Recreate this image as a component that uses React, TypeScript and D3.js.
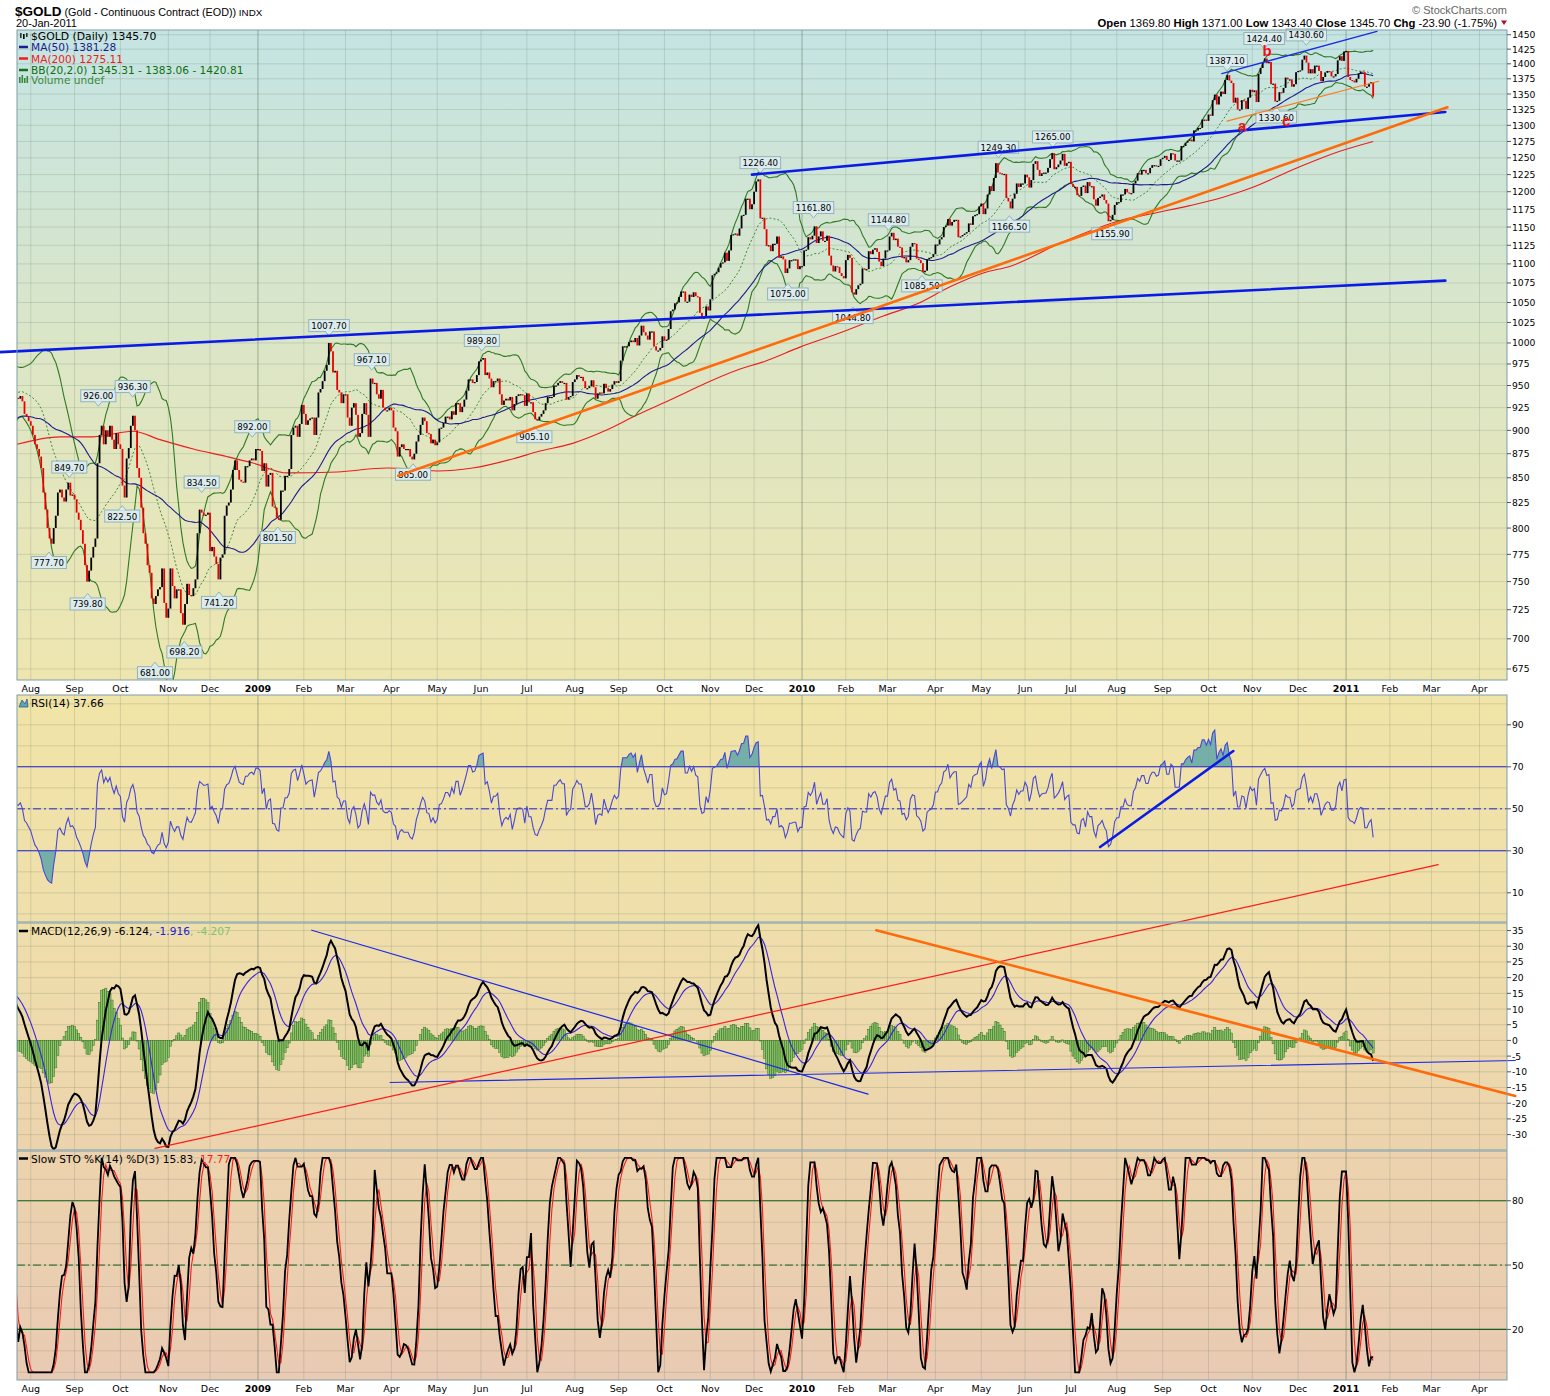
import React, { useEffect, useRef } from "react";
import * as d3 from "d3";

// one row of daily closes per month (weekday slots); the first three rows are only look-back for the indicators
const monthKeys = [
  "2008-05", "2008-06", "2008-07", "2008-08", "2008-09", "2008-10", "2008-11", "2008-12",
  "2009-01", "2009-02", "2009-03", "2009-04", "2009-05", "2009-06", "2009-07", "2009-08",
  "2009-09", "2009-10", "2009-11", "2009-12", "2010-01", "2010-02", "2010-03", "2010-04",
  "2010-05", "2010-06", "2010-07", "2010-08", "2010-09", "2010-10", "2010-11", "2010-12", "2011-01",
];

const monthCloses: number[][] = [
  [861, 853, 873, 880, 885, 878, 886, 873, 871, 866, 877, 894, 903, 912, 925, 928, 918, 925, 925, 899, 882, 886],
  [890, 896, 882, 877, 899, 878, 881, 872, 873, 872, 882, 894, 898, 905, 897, 885, 887, 883, 916, 925, 930],
  [943, 937, 936, 934, 934, 926, 925, 941, 946, 958, 965, 979, 960, 956, 951, 927, 936, 935, 938, 932, 918, 915, 910],
  [905, 895, 885, 880, 872, 860, 835, 818, 800, 790, 785, 800, 812, 835, 838, 830, 826, 838, 845, 832, 833],
  [828, 815, 808, 798, 785, 765, 750, 760, 772, 782, 790, 865, 895, 905, 885, 900, 893, 905, 890, 880, 897, 885],
  [880, 842, 830, 870, 881, 905, 916, 900, 860, 850, 820, 795, 785, 765, 758, 735, 730, 737, 743, 745, 762, 731, 718],
  [726, 762, 746, 735, 743, 743, 722, 712, 730, 748, 738, 737, 744, 752, 795, 818, 815, 812, 813, 815],
  [778, 782, 773, 766, 752, 772, 775, 812, 822, 825, 838, 858, 868, 858, 848, 846, 845, 862, 862, 868, 870, 868, 880],
  [880, 878, 857, 865, 841, 853, 855, 821, 820, 810, 808, 837, 837, 852, 852, 859, 895, 903, 905, 893, 907, 928],
  [918, 906, 911, 913, 914, 895, 914, 942, 946, 955, 967, 974, 1000, 990, 965, 967, 945, 942, 930, 940],
  [940, 914, 905, 925, 930, 917, 893, 897, 918, 930, 917, 893, 958, 952, 953, 940, 935, 945, 925, 922, 922, 925],
  [922, 903, 899, 872, 882, 885, 880, 880, 880, 872, 869, 875, 888, 895, 906, 914, 910, 897, 896, 886, 890, 884],
  [887, 902, 903, 908, 915, 915, 912, 921, 917, 930, 930, 920, 926, 934, 944, 957, 957, 953, 954, 962, 978],
  [980, 982, 962, 965, 958, 948, 955, 955, 958, 940, 928, 933, 935, 933, 937, 922, 929, 938, 940, 940, 939, 927],
  [941, 931, 931, 920, 912, 911, 915, 918, 922, 930, 937, 937, 937, 950, 950, 953, 955, 953, 953, 934, 937, 938, 954],
  [957, 962, 960, 960, 955, 947, 947, 949, 956, 948, 935, 941, 942, 941, 952, 947, 943, 946, 951, 955, 953],
  [955, 979, 996, 996, 996, 1001, 1003, 1001, 1006, 997, 1009, 1021, 1013, 1009, 1004, 1014, 1014, 996, 991, 991, 994, 1008],
  [1003, 1004, 1017, 1039, 1041, 1049, 1050, 1057, 1064, 1064, 1051, 1051, 1060, 1057, 1063, 1058, 1057, 1037, 1030, 1031, 1045, 1040],
  [1054, 1085, 1087, 1089, 1095, 1101, 1102, 1115, 1104, 1118, 1139, 1140, 1141, 1138, 1148, 1166, 1167, 1190, 1190, 1175, 1182],
  [1200, 1215, 1218, 1162, 1163, 1147, 1124, 1125, 1117, 1127, 1127, 1137, 1108, 1110, 1106, 1088, 1094, 1105, 1105, 1106, 1106, 1093, 1097],
  [1097, 1118, 1119, 1136, 1133, 1138, 1151, 1128, 1137, 1144, 1131, 1131, 1138, 1111, 1098, 1090, 1097, 1096, 1088, 1084, 1081],
  [1105, 1112, 1108, 1063, 1060, 1067, 1072, 1074, 1094, 1093, 1093, 1117, 1113, 1119, 1121, 1116, 1103, 1097, 1107, 1118],
  [1118, 1137, 1142, 1132, 1134, 1123, 1122, 1108, 1109, 1102, 1105, 1123, 1128, 1127, 1107, 1105, 1101, 1089, 1091, 1106, 1108, 1109, 1113],
  [1126, 1126, 1133, 1136, 1150, 1152, 1161, 1152, 1157, 1160, 1160, 1136, 1137, 1139, 1141, 1143, 1155, 1153, 1165, 1167, 1168, 1179],
  [1183, 1168, 1176, 1196, 1208, 1201, 1220, 1242, 1228, 1227, 1225, 1226, 1191, 1186, 1176, 1190, 1197, 1212, 1207, 1212, 1212],
  [1225, 1221, 1206, 1217, 1241, 1245, 1232, 1223, 1227, 1228, 1228, 1235, 1248, 1257, 1233, 1236, 1240, 1246, 1256, 1238, 1242, 1244],
  [1211, 1207, 1207, 1195, 1194, 1207, 1209, 1198, 1214, 1208, 1208, 1189, 1180, 1191, 1193, 1196, 1188, 1183, 1158, 1160, 1167, 1181],
  [1185, 1185, 1196, 1196, 1204, 1199, 1198, 1198, 1212, 1216, 1227, 1225, 1232, 1232, 1227, 1227, 1235, 1239, 1239, 1237, 1238, 1248],
  [1250, 1253, 1247, 1247, 1257, 1256, 1246, 1246, 1246, 1268, 1268, 1273, 1276, 1278, 1275, 1292, 1292, 1296, 1296, 1309, 1309, 1307],
  [1317, 1315, 1340, 1349, 1333, 1346, 1354, 1350, 1373, 1381, 1372, 1368, 1336, 1344, 1325, 1325, 1340, 1339, 1326, 1344, 1357],
  [1353, 1356, 1337, 1383, 1393, 1403, 1409, 1401, 1403, 1366, 1367, 1338, 1339, 1353, 1352, 1360, 1377, 1374, 1374, 1362, 1366, 1386],
  [1388, 1389, 1407, 1414, 1402, 1384, 1391, 1384, 1397, 1397, 1388, 1371, 1378, 1385, 1388, 1387, 1379, 1379, 1383, 1406, 1413, 1405, 1421],
  [1422, 1378, 1373, 1372, 1369, 1375, 1384, 1387, 1386, 1362, 1362, 1367, 1369.6, 1345.7],
];

// MA(200): session = weekdays since 1 Aug 2008
const ma200Sessions = [-6.6, 14, 30, 49, 62, 78, 94, 107, 123, 147, 171, 195, 212, 232, 243, 260, 276, 291, 308, 324, 339, 352, 369, 388, 409, 425, 441, 457, 470, 494, 524, 540, 556, 572, 585, 609, 628, 644];
const ma200Values = [885, 893, 893, 899, 890, 880, 872, 865, 855, 856, 860, 857, 860, 870, 877, 886, 900, 917, 935, 953, 968, 978, 995, 1012, 1033, 1048, 1070, 1088, 1097, 1128, 1160, 1170, 1180, 1192, 1205, 1237, 1260, 1275];

const priceTicks = [675, 700, 725, 750, 775, 800, 825, 850, 875, 900, 925, 950, 975, 1000, 1025, 1050, 1075, 1100, 1125, 1150, 1175, 1200, 1225, 1250, 1275, 1300, 1325, 1350, 1375, 1400, 1425, 1450];
const rsiTicks = [90, 70, 50, 30, 10];
const rsiGrid = [0, 10, 20, 30, 40, 50, 60, 70, 80, 90, 100];
const macdTicks = [35, 30, 25, 20, 15, 10, 5, 0, -5, -10, -15, -20, -25, -30];
const stoTicks = [80, 50, 20];
const stoGrid = [0, 10, 20, 30, 40, 50, 60, 70, 80, 90, 100];

// call-outs on highs and lows: [session, value, below]
const priceLabels: [number, number, number][] = [
  [8.7, 777.7, 1], [18.5, 849.7, 0], [27.3, 739.8, 1], [32.4, 926.0, 0], [43.9, 822.5, 1],
  [48.9, 936.3, 0], [59.6, 681.0, 1], [73.7, 698.2, 1], [82, 834.5, 0], [90.3, 741.2, 1],
  [106.3, 892.0, 0], [118.5, 801.5, 1], [143.1, 1007.7, 0], [163.6, 967.1, 0], [183.4, 865.0, 1],
  [216.4, 989.8, 0], [241.6, 905.1, 1], [350, 1226.4, 0], [363.2, 1075.0, 1], [375.5, 1161.8, 0],
  [394.4, 1044.8, 1], [411.5, 1144.8, 0], [427.5, 1085.5, 1], [464.2, 1249.3, 0], [469.5, 1166.5, 1],
  [490.3, 1265.0, 0], [518.7, 1155.9, 1], [573.9, 1387.1, 0], [591.7, 1424.4, 0], [597.5, 1330.6, 1],
  [611.9, 1430.6, 0],
];

// hand-drawn lines: [session1, value1, session2, value2]
const priceBlueThick = [[-14.8, 989, 678.6, 1078], [346, 1225, 678.6, 1321]];
const priceOrangeThick = [[176.3, 852, 679.6, 1328.6]];
const priceBlueThin = [[571.4, 1383.6, 645.8, 1456]];
const priceOrangeThin = [[573.9, 1306.6, 646.6, 1371]];
const rsiBlueThick = [[513, 31.8, 576.9, 77.5]];
const macdBlueThin = [[134.8, 35.1, 401.7, -17.1], [172.4, -13.4, 712.2, -6.4]];
const macdRedThin = [[59.6, -34.4, 675.2, 56.0]];
const macdOrangeThick = [[405.6, 35.1, 712.2, -17.7]];
const waveLetters = ["a", "b", "c"];
const waveSessions = [581.1, 593.1, 602.3];
const waveValues = [1299.5, 1422, 1308];

const FONT = "'DejaVu Sans', Verdana, sans-serif";
const SANS = "'Liberation Sans', Arial, sans-serif";

const sma = (a: number[], n: number) =>
  a.map((_, i) => {
    if (i < n - 1) return NaN;
    const w = a.slice(i - n + 1, i + 1);
    return w.some((v) => isNaN(v)) ? NaN : d3.sum(w) / n;
  });

const ema = (a: number[], n: number) => {
  const k = 2 / (n + 1);
  let prev = NaN;
  return a.map((v) => {
    if (isNaN(v)) return NaN;
    prev = isNaN(prev) ? v : v * k + prev * (1 - k);
    return prev;
  });
};

const App = () => {
  const ref = useRef<SVGSVGElement | null>(null);

  useEffect(() => {
    if (!ref.current) return;
    const svg = d3.select(ref.current);
    svg.selectAll("*").remove();

    // ---- calendar / bars ----
    const fmtMonth = d3.timeFormat("%Y-%m");
    const fmtDay = d3.timeFormat("%Y-%m-%d");
    const weekdays = d3.timeDay
      .range(new Date(2008, 4, 1), new Date(2011, 4, 1))
      .filter((d) => d.getDay() % 6 !== 0);
    const origin = weekdays.findIndex((d) => fmtDay(d) === "2008-08-01");
    const sessionOf = new Map(weekdays.map((d, i) => [fmtDay(d), i - origin]));
    const daysByMonth = d3.group(weekdays, fmtMonth);

    const bars: { s: number; c: number }[] = [];
    monthKeys.forEach((key, mi) => {
      const days = daysByMonth.get(key)!;
      const row = monthCloses[mi];
      const first = sessionOf.get(fmtDay(days[0]))!;
      const step = mi === monthKeys.length - 1 ? 1 : days.length / row.length;
      row.forEach((c, j) => bars.push({ s: first + j * step, c }));
    });
    const closes = bars.map((b) => b.c);

    // ---- indicators ----
    const ma50 = sma(closes, 50);
    const mid20 = sma(closes, 20);
    const sd20 = closes.map((_, i) => {
      if (i < 19) return NaN;
      const w = closes.slice(i - 19, i + 1);
      const m = d3.mean(w)!;
      return Math.sqrt(d3.mean(w, (v) => (v - m) ** 2)!);
    });
    const bbUp = mid20.map((m, i) => m + 2 * sd20[i]);
    const bbLo = mid20.map((m, i) => m - 2 * sd20[i]);

    const rsi = closes.map(() => NaN);
    let ag = 0, al = 0;
    for (let i = 1; i < closes.length; i++) {
      const ch = closes[i] - closes[i - 1];
      const g = Math.max(ch, 0), l = Math.max(-ch, 0);
      if (i <= 14) {
        ag += g / 14;
        al += l / 14;
        if (i === 14) rsi[i] = 100 - 100 / (1 + ag / (al || 1e-9));
      } else {
        ag = (ag * 13 + g) / 14;
        al = (al * 13 + l) / 14;
        rsi[i] = 100 - 100 / (1 + ag / (al || 1e-9));
      }
    }

    const e12 = ema(closes, 12);
    const e26 = ema(closes, 26);
    const macd = e12.map((v, i) => v - e26[i]);
    const signal = ema(macd, 9);
    const hist = macd.map((v, i) => v - signal[i]);

    const fastK = closes.map((c, i) => {
      if (i < 13) return NaN;
      const w = closes.slice(i - 13, i + 1);
      const lo = d3.min(w)!, hi = d3.max(w)!;
      return hi === lo ? 50 : (100 * (c - lo)) / (hi - lo);
    });
    const slowK = sma(fastK, 3);
    const slowD = sma(slowK, 3);

    // ---- layout ----
    const L = 17, R = 1507;
    const main = { top: 30, bot: 680 };
    const rsiP = { top: 695, bot: 922 };
    const macdP = { top: 923, bot: 1150 };
    const stoP = { top: 1151, bot: 1380 };
    const panels = [main, rsiP, macdP, stoP];

    const x = d3.scaleLinear().domain([-6.6, 708.2]).range([L, R]);
    const yP = d3.scaleLog().domain([666.1, 1458.3]).range([main.bot, main.top]);
    const yR = d3.scaleLinear().domain([-3.9, 104.2]).range([rsiP.bot, rsiP.top]);
    const yM = d3.scaleLinear().domain([-34.9, 37.4]).range([macdP.bot, macdP.top]);
    const yS = d3.scaleLinear().domain([-3.6, 103.2]).range([stoP.bot, stoP.top]);

    const defs = svg.append("defs");
    const grad = defs
      .append("linearGradient")
      .attr("id", "bg")
      .attr("gradientUnits", "userSpaceOnUse")
      .attr("x1", 0).attr("y1", main.top).attr("x2", 0).attr("y2", stoP.bot);
    [
      [0, "#c4e4e3"], [0.24, "#dce6c6"], [0.47, "#ede6b1"], [0.5, "#f1e4a7"],
      [0.66, "#efdfab"], [0.83, "#ecd3ad"], [1, "#e9cab3"],
    ].forEach(([o, c]) => grad.append("stop").attr("offset", o as number).attr("stop-color", c as string));

    panels.forEach((p, i) => {
      defs.append("clipPath").attr("id", `clip${i}`)
        .append("rect").attr("x", L).attr("y", p.top).attr("width", R - L).attr("height", p.bot - p.top);
    });
    defs.append("clipPath").attr("id", "rsiHi")
      .append("rect").attr("x", L).attr("y", rsiP.top).attr("width", R - L).attr("height", yR(70) - rsiP.top);
    defs.append("clipPath").attr("id", "rsiLo")
      .append("rect").attr("x", L).attr("y", yR(30)).attr("width", R - L).attr("height", rsiP.bot - yR(30));

    svg.append("rect").attr("width", 1550).attr("height", 1396).attr("fill", "#fff");

    panels.forEach((p) => {
      svg.append("rect").attr("x", L).attr("y", p.top).attr("width", R - L).attr("height", p.bot - p.top).attr("fill", "url(#bg)");
    });

    // month grid
    const monthStarts = d3.timeMonth.range(new Date(2008, 7, 1), new Date(2011, 4, 1)).map((m) => {
      const days = daysByMonth.get(fmtMonth(m))!;
      return { date: m, s: sessionOf.get(fmtDay(days[0]))! };
    });
    const gridColor = "rgba(95,115,95,0.2)";
    const yearColor = "rgba(80,100,80,0.45)";
    panels.forEach((p) => {
      monthStarts.forEach((m) => {
        svg.append("line")
          .attr("x1", x(m.s)).attr("x2", x(m.s)).attr("y1", p.top).attr("y2", p.bot)
          .attr("stroke", m.date.getMonth() === 0 ? yearColor : gridColor).attr("stroke-width", 1);
      });
    });
    const hGrid = (vals: number[], y: (v: number) => number) =>
      vals.forEach((v) => {
        svg.append("line").attr("x1", L).attr("x2", R).attr("y1", y(v)).attr("y2", y(v))
          .attr("stroke", gridColor).attr("stroke-width", 1);
      });
    hGrid(priceTicks, yP);
    hGrid(rsiGrid, yR);
    hGrid(macdTicks, yM);
    hGrid(stoGrid, yS);

    const vis = bars.map((b, i) => i).filter((i) => bars[i].s >= -9);
    const lineOf = (vals: number[], y: (v: number) => number) =>
      d3.line<number>()
        .defined((i) => !isNaN(vals[i]))
        .x((i) => x(bars[i].s))
        .y((i) => y(vals[i]))(vis);

    // ---- price panel ----
    const gP = svg.append("g").attr("clip-path", "url(#clip0)");
    const ma200Line = d3.line<number>()
      .x((i) => x(ma200Sessions[i]))
      .y((i) => yP(ma200Values[i]))
      .curve(d3.curveMonotoneX);
    gP.append("path").attr("d", ma200Line(ma200Values.map((_, i) => i)))
      .attr("fill", "none").attr("stroke", "#ee1c1c").attr("stroke-width", 1.1);
    gP.append("path").attr("d", lineOf(bbUp, yP)).attr("fill", "none").attr("stroke", "#2d7a22").attr("stroke-width", 1.1);
    gP.append("path").attr("d", lineOf(bbLo, yP)).attr("fill", "none").attr("stroke", "#2d7a22").attr("stroke-width", 1.1);
    gP.append("path").attr("d", lineOf(mid20, yP)).attr("fill", "none").attr("stroke", "#3d8a32")
      .attr("stroke-width", 1).attr("stroke-dasharray", "2,2");
    gP.append("path").attr("d", lineOf(ma50, yP)).attr("fill", "none").attr("stroke", "#1c1c8e").attr("stroke-width", 1.1);

    vis.filter((i) => i > 0).forEach((i) => {
      const o = closes[i - 1], c = closes[i];
      const y1 = yP(Math.max(o, c)), y2 = yP(Math.min(o, c));
      gP.append("rect")
        .attr("x", x(bars[i].s) - 0.9).attr("width", 1.8)
        .attr("y", y1).attr("height", Math.max(1.2, y2 - y1))
        .attr("fill", c >= o ? "#000" : "#e80000");
    });

    // call-outs
    priceLabels.forEach(([s, v, below]) => {
      const px = x(s), py = yP(v);
      const g = svg.append("g");
      const t = g.append("text").text(v.toFixed(2))
        .attr("font-family", FONT).attr("font-size", 8.6).attr("fill", "#000")
        .attr("text-anchor", "middle").attr("dominant-baseline", "central");
      const tw = (t.node() as SVGTextElement).getComputedTextLength() + 5;
      const bh = 12;
      const by = below ? py + 5 : py - 5 - bh;
      const tri = below
        ? `M${px - 4},${py + 5.5}L${px},${py + 0.5}L${px + 4},${py + 5.5}`
        : `M${px - 4},${py - 5.5}L${px},${py - 0.5}L${px + 4},${py - 5.5}`;
      g.insert("rect", "text").attr("x", px - tw / 2).attr("y", by).attr("width", tw).attr("height", bh)
        .attr("fill", "#dcecee").attr("stroke", "#93b3b9").attr("stroke-width", 1);
      g.insert("path", "text").attr("d", tri).attr("fill", "#dcecee").attr("stroke", "#93b3b9").attr("stroke-width", 1);
      t.attr("x", px).attr("y", by + bh / 2 + 0.5);
    });

    const drawSeg = (segs: number[][], y: (v: number) => number, color: string, w: number) =>
      segs.forEach(([s1, v1, s2, v2]) => {
        svg.append("line")
          .attr("x1", x(s1)).attr("y1", y(v1)).attr("x2", x(s2)).attr("y2", y(v2))
          .attr("stroke", color).attr("stroke-width", w).attr("stroke-linecap", "round");
      });
    drawSeg(priceBlueThick, yP, "#0a1be6", 2.6);
    drawSeg(priceOrangeThick, yP, "#ff6a0a", 2.6);
    drawSeg(priceBlueThin, yP, "#1a2be8", 1.4);
    drawSeg(priceOrangeThin, yP, "#ff7a1a", 1.2);

    waveLetters.forEach((ltr, i) => {
      svg.append("text").text(ltr)
        .attr("x", x(waveSessions[i])).attr("y", yP(waveValues[i]))
        .attr("text-anchor", "middle").attr("dominant-baseline", "central")
        .attr("font-family", SANS).attr("font-weight", "bold").attr("font-size", 15)
        .attr("fill", "#ee1111");
    });

    // ---- RSI panel ----
    const gR = svg.append("g").attr("clip-path", "url(#clip1)");
    const rsiArea = (base: number) =>
      d3.area<number>()
        .defined((i) => !isNaN(rsi[i]))
        .x((i) => x(bars[i].s))
        .y0(yR(base))
        .y1((i) => yR(rsi[i]))(vis);
    gR.append("path").attr("d", rsiArea(70)).attr("clip-path", "url(#rsiHi)").attr("fill", "#5fa6a8").attr("opacity", 0.85);
    gR.append("path").attr("d", rsiArea(30)).attr("clip-path", "url(#rsiLo)").attr("fill", "#5fa6a8").attr("opacity", 0.85);
    [70, 30].forEach((v) =>
      gR.append("line").attr("x1", L).attr("x2", R).attr("y1", yR(v)).attr("y2", yR(v))
        .attr("stroke", "#2424d6").attr("stroke-width", 1.1));
    gR.append("line").attr("x1", L).attr("x2", R).attr("y1", yR(50)).attr("y2", yR(50))
      .attr("stroke", "#2424d6").attr("stroke-width", 1).attr("stroke-dasharray", "8,3,2,3");
    gR.append("path").attr("d", lineOf(rsi, yR)).attr("fill", "none").attr("stroke", "#4848d4").attr("stroke-width", 1.1);
    drawSeg(rsiBlueThick, yR, "#0a1be6", 2.6);

    // ---- MACD panel ----
    const gM = svg.append("g").attr("clip-path", "url(#clip2)");
    vis.forEach((i) => {
      if (isNaN(hist[i])) return;
      const y0 = yM(0), y1 = yM(hist[i]);
      gM.append("rect")
        .attr("x", x(bars[i].s) - 1.04).attr("width", 2.08)
        .attr("y", Math.min(y0, y1)).attr("height", Math.abs(y1 - y0))
        .attr("fill", "#8dc46a").attr("stroke", "#336e24").attr("stroke-width", 0.5);
    });
    gM.append("path").attr("d", lineOf(signal, yM)).attr("fill", "none").attr("stroke", "#3a22dd").attr("stroke-width", 1.1);
    gM.append("path").attr("d", lineOf(macd, yM)).attr("fill", "none").attr("stroke", "#000").attr("stroke-width", 2);
    drawSeg(macdBlueThin, yM, "#1c2ae6", 1.2);
    drawSeg(macdRedThin, yM, "#ff1a1a", 1.2);
    drawSeg(macdOrangeThick, yM, "#ff6a0a", 2.6);

    // ---- Slow STO panel ----
    const gS = svg.append("g").attr("clip-path", "url(#clip3)");
    [80, 20].forEach((v) =>
      gS.append("line").attr("x1", L).attr("x2", R).attr("y1", yS(v)).attr("y2", yS(v))
        .attr("stroke", "#13601c").attr("stroke-width", 1.1));
    gS.append("line").attr("x1", L).attr("x2", R).attr("y1", yS(50)).attr("y2", yS(50))
      .attr("stroke", "#13601c").attr("stroke-width", 1).attr("stroke-dasharray", "8,3,2,3");
    gS.append("path").attr("d", lineOf(slowD, yS)).attr("fill", "none").attr("stroke", "#ff1a1a").attr("stroke-width", 1.1);
    gS.append("path").attr("d", lineOf(slowK, yS)).attr("fill", "none").attr("stroke", "#000").attr("stroke-width", 1.8);

    // ---- borders and axes ----
    panels.forEach((p) => {
      svg.append("rect").attr("x", L).attr("y", p.top).attr("width", R - L).attr("height", p.bot - p.top)
        .attr("fill", "none").attr("stroke", "#7f9ea6").attr("stroke-width", 1);
    });
    const rightAxis = (vals: number[], y: (v: number) => number) =>
      vals.forEach((v) => {
        svg.append("line").attr("x1", R).attr("x2", R + 4).attr("y1", y(v)).attr("y2", y(v)).attr("stroke", "#555");
        svg.append("text").text(v).attr("x", R + 5).attr("y", y(v)).attr("dominant-baseline", "central")
          .attr("font-family", FONT).attr("font-size", 9.2).attr("fill", "#000");
      });
    rightAxis(priceTicks, yP);
    rightAxis(rsiTicks, yR);
    rightAxis(macdTicks, yM);
    rightAxis(stoTicks, yS);

    [688, 1388].forEach((ty) => {
      monthStarts.forEach((m) => {
        const jan = m.date.getMonth() === 0;
        svg.append("text")
          .text(jan ? d3.timeFormat("%Y")(m.date) : d3.timeFormat("%b")(m.date))
          .attr("x", x(m.s)).attr("y", ty).attr("text-anchor", "middle").attr("dominant-baseline", "central")
          .attr("font-family", FONT).attr("font-size", 9.5).attr("font-weight", jan ? "bold" : "normal").attr("fill", "#000");
      });
    });

    // ---- legends ----
    const legend = (yy: number, parts: [string, string][], size = 10.6) => {
      const t = svg.append("text").attr("x", 31).attr("y", yy).attr("dominant-baseline", "central")
        .attr("font-family", FONT).attr("font-size", size);
      parts.forEach(([s, c]) => t.append("tspan").text(s).attr("fill", c));
    };
    const dash = (yy: number, c: string) =>
      svg.append("line").attr("x1", 19).attr("x2", 28).attr("y1", yy).attr("y2", yy).attr("stroke", c).attr("stroke-width", 2.5);

    [[20, 33, 38], [23, 34, 39], [26, 33, 37]].forEach(([bx, y1, y2], i) =>
      svg.append("rect").attr("x", bx).attr("y", y1).attr("width", 1.6).attr("height", y2 - y1).attr("fill", i === 1 ? "#000" : "#333"));
    svg.append("text").text("$GOLD (Daily) 1345.70").attr("x", 31).attr("y", 36)
      .attr("dominant-baseline", "central").attr("font-family", FONT).attr("font-size", 10.8).attr("fill", "#000");
    dash(47, "#1c1c8e");
    legend(47, [["MA(50) 1381.28", "#1c1c8e"]]);
    dash(58.5, "#ee1c1c");
    legend(58.5, [["MA(200) 1275.11", "#ee1c1c"]]);
    dash(70, "#1a701a");
    legend(70, [["BB(20,2.0) 1345.31 - 1383.06 - 1420.81", "#0f6e0f"]]);
    [[19, 77, 83], [21.5, 75, 83], [24, 78, 83], [26.5, 76, 83]].forEach(([bx, y1, y2]) =>
      svg.append("rect").attr("x", bx).attr("y", y1).attr("width", 1.6).attr("height", y2 - y1).attr("fill", "#3b8a3b"));
    legend(80, [["Volume undef", "#3b8a3b"]]);

    svg.append("path").attr("d", "M19,707L22,700L25,704L27,699L28,707Z").attr("fill", "#5fa6a8").attr("stroke", "#2a5a9a").attr("stroke-width", 0.8);
    legend(703, [["RSI(14) 37.66", "#000"]]);
    dash(931, "#000");
    legend(931, [["MACD(12,26,9) -6.124", "#000"], [", -1.916", "#2222dd"], [", -4.207", "#7ec46c"]]);
    dash(1158.5, "#000");
    legend(1158.5, [["Slow STO %K(14) %D(3) 15.83", "#000"], [", ", "#000"], ["17.77", "#ff1a1a"]]);

    // ---- header ----
    const head = svg.append("text").attr("x", 15).attr("y", 15.5).attr("font-family", SANS);
    head.append("tspan").text("$GOLD").attr("font-weight", "bold").attr("font-size", 13.5);
    head.append("tspan").text(" (Gold - Continuous Contract (EOD))").attr("font-size", 10.8);
    head.append("tspan").text(" INDX").attr("font-size", 9.8);
    svg.append("text").text("20-Jan-2011").attr("x", 16).attr("y", 27).attr("font-family", SANS).attr("font-size", 11);
    svg.append("text").text("\u00a9 StockCharts.com").attr("x", 1507).attr("y", 14).attr("text-anchor", "end")
      .attr("font-family", SANS).attr("font-size", 11).attr("fill", "#666");
    const ohlc = svg.append("text").attr("x", 1497).attr("y", 26.5).attr("text-anchor", "end")
      .attr("font-family", SANS).attr("font-size", 11.3).attr("fill", "#000");
    [["Open", " 1369.80  "], ["High", " 1371.00  "], ["Low", " 1343.40  "], ["Close", " 1345.70  "], ["Chg", " -23.90 (-1.75%)"]]
      .forEach(([k, v]) => {
        ohlc.append("tspan").text(k).attr("font-weight", "bold");
        ohlc.append("tspan").text(v);
      });
    svg.append("path").attr("d", "M1501,20.5L1507,20.5L1504,25Z").attr("fill", "#b0102a");
  }, []);

  return (
    <svg
      ref={ref}
      width={1550}
      height={1396}
      style={{ position: "absolute", left: 0, top: 0, display: "block" }}
    />
  );
};

export default App;
